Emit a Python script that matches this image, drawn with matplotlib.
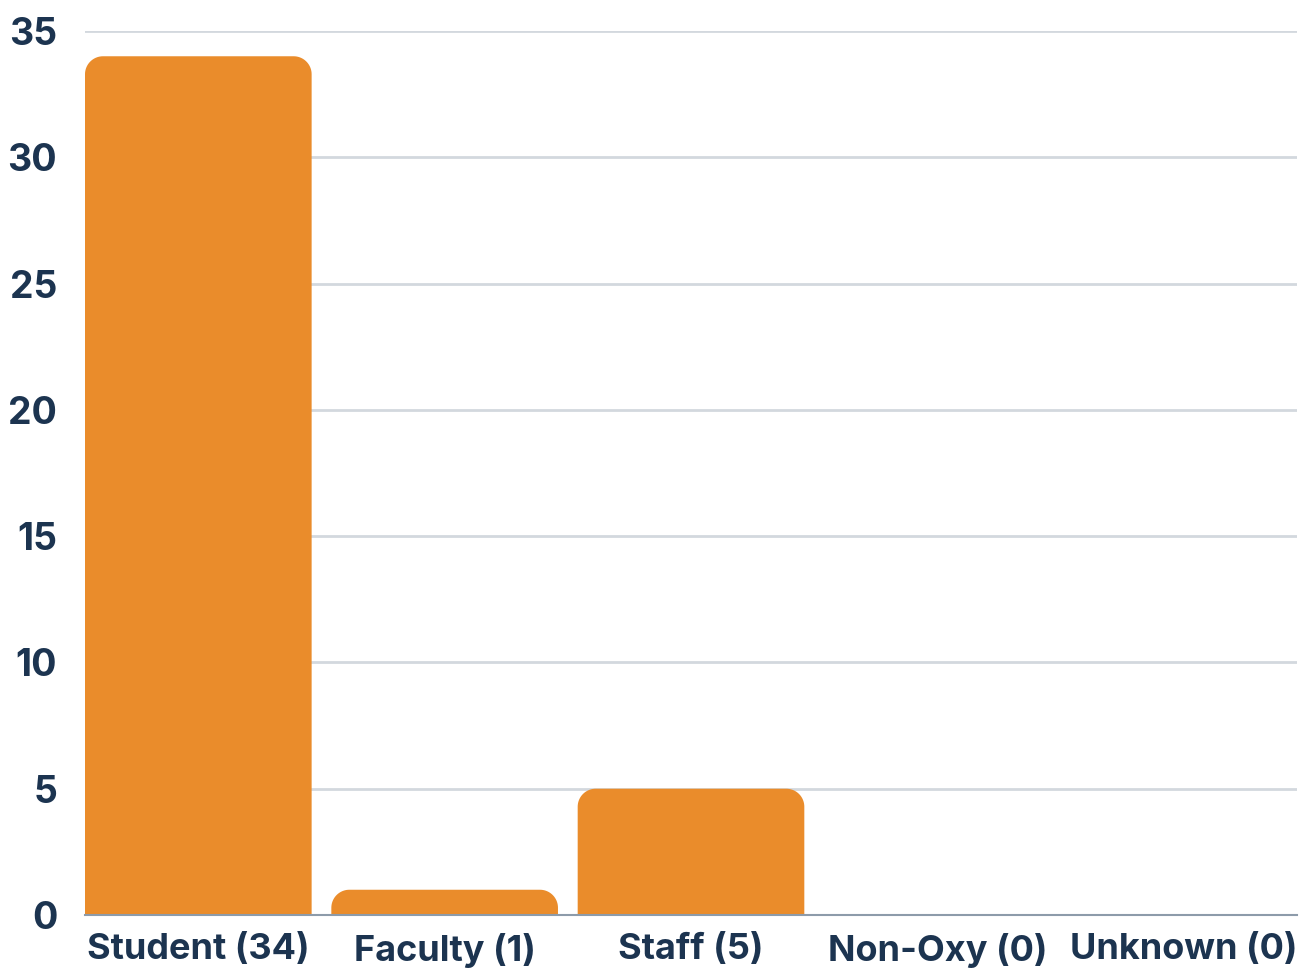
import numpy as np
import matplotlib
matplotlib.use('Agg')
import matplotlib.pyplot as plt
from matplotlib.patches import Polygon

categories = ['Student (34)', 'Faculty (1)', 'Staff (5)', 'Non-Oxy (0)', 'Unknown (0)']
counts = [34, 1, 5, 0, 0]
yticks = [0, 5, 10, 15, 20, 25, 30, 35]

bar_color = '#EA8C2B'
text_color = '#1C3450'
grid_color = '#D3D8DE'
axis_color = '#8D9BAA'

plt.rcParams['font.family'] = ['Inter', 'DejaVu Sans']
plt.rcParams['font.weight'] = 'bold'

fig = plt.figure(figsize=(13.03, 9.74), dpi=100)
ax = fig.add_axes([85/1303, 59/974, 1212/1303, 884/974])

x = np.arange(len(categories))
bars = ax.bar(x, counts, width=0.92, color=bar_color, zorder=3)
ax.set_xlim(-0.46, len(categories) - 0.54)
ax.set_ylim(0, 35)

# rounded top corners, radius in pixels
radius_px = 18
fig.canvas.draw()
px_x = ax.transData.transform((1, 0))[0] - ax.transData.transform((0, 0))[0]
px_y = ax.transData.transform((0, 1))[1] - ax.transData.transform((0, 0))[1]
rx = radius_px / px_x
ry = radius_px / px_y
for b in bars:
    h = b.get_height()
    if h <= 0:
        b.set_visible(False)
        continue
    x0 = b.get_x()
    x1 = x0 + b.get_width()
    r_y = min(ry, h)
    t = np.linspace(0, np.pi / 2, 20)
    left = np.column_stack([x0 + rx - rx * np.cos(t), h - r_y + r_y * np.sin(t)])
    right = np.column_stack([x1 - rx + rx * np.sin(t), h - r_y + r_y * np.cos(t)])
    pts = np.vstack([[x0, 0], left, right, [x1, 0]])
    ax.add_patch(Polygon(pts, closed=True, facecolor=bar_color, edgecolor='none', zorder=3))
    b.set_visible(False)

for y in yticks[1:]:
    ax.axhline(y, color=grid_color, lw=2, zorder=1)

for s in ['top', 'right', 'left']:
    ax.spines[s].set_visible(False)
ax.spines['bottom'].set_color(axis_color)
ax.spines['bottom'].set_linewidth(1.5)
ax.spines['bottom'].set_zorder(4)

ax.set_yticks(yticks)
ax.set_xticks(x)
ax.set_xticklabels(categories, fontsize=26)
ax.tick_params(axis='both', length=0, labelcolor=text_color)
ax.tick_params(axis='y', pad=20, labelsize=27)
ax.tick_params(axis='x', pad=13)

fig.savefig('out.png', dpi=100)
